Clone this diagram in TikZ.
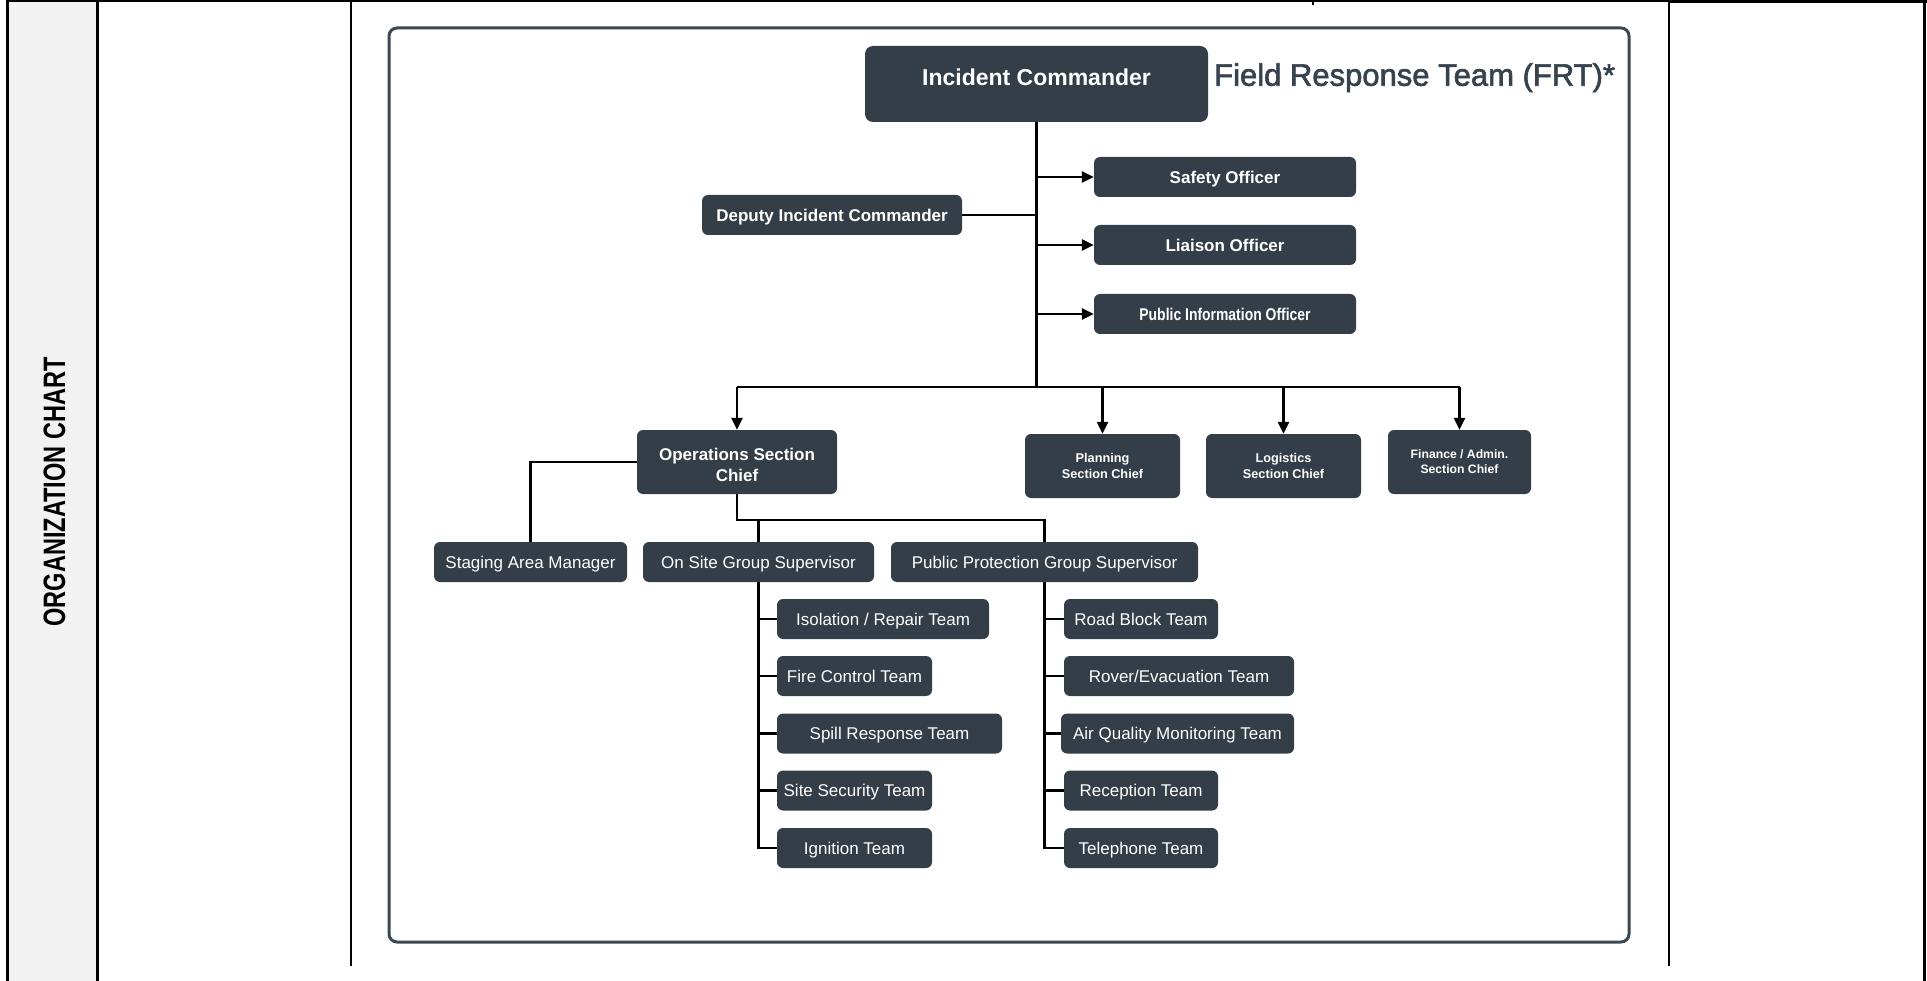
\documentclass[tikz,border=0pt]{standalone}
\usepackage{fontspec}
\setmainfont{Liberation Sans}
\newfontfamily\titlefont{Liberation Sans}[FakeBold=2]
\usetikzlibrary{arrows.meta}
\definecolor{boxfill}{RGB}{52,62,72}
\definecolor{framecol}{RGB}{60,72,82}
\definecolor{titlegray}{RGB}{55,66,77}
\definecolor{colgray}{RGB}{242,242,242}
\begin{document}
\begin{tikzpicture}[x=1pt,y=-1pt,
  basebox/.style={fill=boxfill, rounded corners=6pt, text=white, inner sep=0pt,
    align=center, font=\fontsize{17}{20}\selectfont},
  onebox/.style={basebox, text height=12.2pt, text depth=0pt, minimum height=40pt},
  boldbox/.style={onebox, font=\bfseries\fontsize{17}{20}\selectfont},
  conn/.style={draw=black, line width=2.4pt},
  arrowconn/.style={conn, -{Triangle[length=12pt,width=11pt]}},
  tableline/.style={draw=black, line width=1.5pt},
  tablethick/.style={draw=black, line width=3pt}
]
\useasboundingbox (0,0) rectangle (1927,981);
% table
\fill[colgray] (7,0) rectangle (97,981);
\draw[tablethick] (7.5,0) -- (7.5,981);
\draw[tablethick] (97.5,0) -- (97.5,981);
\draw[tableline] (7,1) -- (1668,1);
\draw[tablethick] (1668,1.5) -- (1927,1.5);
\draw[tableline] (351,0) -- (351,966);
\draw[tableline] (1313,0) -- (1313,5);
\draw[tableline] (1669,0) -- (1669,966);
\draw[tablethick] (1924.5,0) -- (1924.5,981);
\node[rotate=90, inner sep=0pt, text height=22pt, text depth=0pt,
  font=\bfseries\fontsize{31}{31}\selectfont] (orgchart) at (54,492)
  {\scalebox{0.76}[1]{ORGANIZATION CHART}};
% frame
\draw[framecol, line width=3pt, rounded corners=8pt] (389,28) rectangle (1629,942);
% title
\node[anchor=west, inner sep=0pt, text height=21.5pt, text depth=0pt, text=titlegray,
  font=\titlefont\fontsize{31}{31}\selectfont] (title) at (1214,75) {Field Response Team (FRT)*};
% top level
\node[basebox, rounded corners=8pt, minimum width=343pt, text height=39.2pt, text depth=36.8pt,
  font=\bfseries\fontsize{23}{27}\selectfont] (ic) at (1036.5,84) {Incident Commander};
\node[boldbox, minimum width=260pt] (deputy) at (832,215) {Deputy Incident Commander};
\node[boldbox, minimum width=262pt] (safety) at (1225,177) {Safety Officer};
\node[boldbox, minimum width=262pt] (liaison) at (1225,245) {Liaison Officer};
\node[boldbox, minimum width=262pt] (pio) at (1225,314) {\scalebox{0.82}[1]{Public Information Officer}};
% sections
\node[basebox, minimum width=200pt, minimum height=64pt,
  font=\bfseries\fontsize{17}{21}\selectfont] (ops) at (737,462) {\rule{0pt}{19pt}Operations Section\\Chief};
\node[basebox, minimum width=155pt, minimum height=64pt,
  font=\bfseries\fontsize{12.7}{16}\selectfont] (planning) at (1102.5,466) {Planning\\Section Chief};
\node[basebox, minimum width=155pt, minimum height=64pt,
  font=\bfseries\fontsize{12.7}{16}\selectfont] (logistics) at (1283.5,466) {Logistics\\Section Chief};
\node[basebox, minimum width=143pt, minimum height=64pt,
  font=\bfseries\fontsize{12.2}{15}\selectfont] (finance) at (1459.5,462) {Finance / Admin.\\Section Chief};
% supervisors
\node[onebox, minimum width=193pt] (staging) at (530.5,562) {Staging Area Manager};
\node[onebox, minimum width=231pt] (onsite) at (758.5,562) {On Site Group Supervisor};
\node[onebox, minimum width=307pt] (ppgs) at (1044.5,562) {Public Protection Group Supervisor};
% on site teams
\node[onebox, minimum width=212pt] (iso) at (883,619) {Isolation / Repair Team};
\node[onebox, minimum width=155pt] (fire) at (854.5,676) {Fire Control Team};
\node[onebox, minimum width=225pt] (spill) at (889.5,733.5) {Spill Response Team};
\node[onebox, minimum width=155pt] (security) at (854.5,790.5) {Site Security Team};
\node[onebox, minimum width=155pt] (ignition) at (854.5,848) {Ignition Team};
% public protection teams
\node[onebox, minimum width=154pt] (road) at (1141,619) {Road Block Team};
\node[onebox, minimum width=230pt] (rover) at (1179,676) {Rover/Evacuation Team};
\node[onebox, minimum width=233pt] (air) at (1177.5,733.5) {Air Quality Monitoring Team};
\node[onebox, minimum width=154pt] (reception) at (1141,790.5) {Reception Team};
\node[onebox, minimum width=154pt] (telephone) at (1141,848) {Telephone Team};
% connectors
\coordinate (trunkend) at (1036.5,387);
\coordinate (opsbus) at (737,520);
\draw[conn] (ic.south) -- (trunkend);
\draw[arrowconn] (ic.south |- safety.west) -- (safety.west);
\draw[arrowconn] (ic.south |- liaison.west) -- (liaison.west);
\draw[arrowconn] (ic.south |- pio.west) -- (pio.west);
\draw[conn] (deputy.east) -- (ic.south |- deputy.east);
\draw[conn] (ops.north |- trunkend) -- (finance.north |- trunkend);
\draw[arrowconn] (ops.north |- trunkend) -- (ops.north);
\draw[arrowconn] (planning.north |- trunkend) -- (planning.north);
\draw[arrowconn] (logistics.north |- trunkend) -- (logistics.north);
\draw[arrowconn] (finance.north |- trunkend) -- (finance.north);
\draw[conn] (ops.west) -| (staging.north);
\draw[conn] (ops.south) -- (opsbus) -| (ppgs.north);
\draw[conn] (onsite.north |- opsbus) -- (onsite.north);
\draw[conn] (onsite.south) -- (onsite.south |- ignition.west) -- (ignition.west);
\draw[conn] (onsite.south |- iso.west) -- (iso.west);
\draw[conn] (onsite.south |- fire.west) -- (fire.west);
\draw[conn] (onsite.south |- spill.west) -- (spill.west);
\draw[conn] (onsite.south |- security.west) -- (security.west);
\draw[conn] (ppgs.south) -- (ppgs.south |- telephone.west) -- (telephone.west);
\draw[conn] (ppgs.south |- road.west) -- (road.west);
\draw[conn] (ppgs.south |- rover.west) -- (rover.west);
\draw[conn] (ppgs.south |- air.west) -- (air.west);
\draw[conn] (ppgs.south |- reception.west) -- (reception.west);
\end{tikzpicture}
\end{document}
